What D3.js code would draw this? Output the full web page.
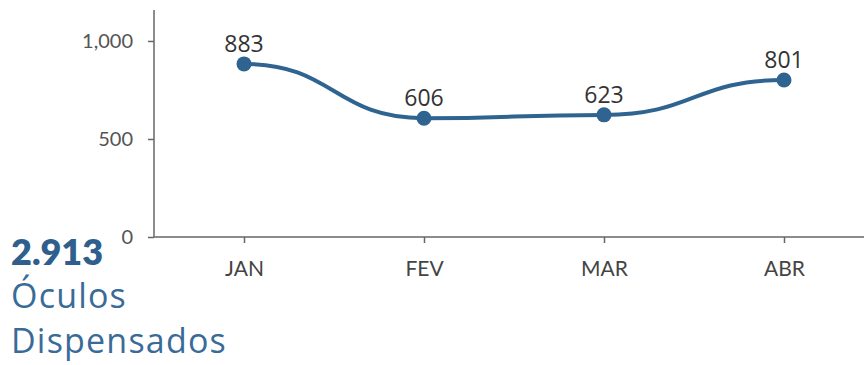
<!DOCTYPE html>
<html>
<head>
<meta charset="utf-8">
<script src="https://cdn.jsdelivr.net/npm/d3@7"></script>
<style>
  body { margin: 0; background: #fff; }
  svg { display: block; }
</style>
</head>
<body>
<div id="canvas"></div>
<script>
// data
var months = ['JAN', 'FEV', 'MAR', 'ABR'];
var values = [883, 606, 623, 801];
var yTicks = [0, 500, 1000];
var totalLabel = '2.913';
var titleLines = ['Óculos', 'Dispensados'];

var W = 865, H = 365;
var m = {t: 10, l: 154, b: 128};
var lineColor = '#2f6491';

var svg = d3.select('#canvas')
    .append('svg')
    .attr('width', W)
    .attr('height', H);

var plot = svg.append('g')
    .attr('transform', 'translate(' + m.l + ',' + m.t + ')');

var h = H - m.t - m.b;

// scales
var scaleX = d3.scalePoint()
    .domain(months)
    .range([90, 630]);
var scaleY = d3.scaleLinear()
    .domain([0, 1158])
    .range([h, 0]);

// axes
var axisY = d3.axisLeft(scaleY)
    .tickValues(yTicks)
    .tickFormat(d3.format(','))
    .tickSize(6)
    .tickPadding(15);
var axisX = d3.axisBottom(scaleX)
    .tickSize(6)
    .tickPadding(18);

var gy = plot.append('g').call(axisY);
gy.select('.domain').attr('d', 'M0,0V' + h);

var gx = plot.append('g')
    .attr('transform', 'translate(0,' + h + ')')
    .call(axisX);
gx.select('.domain').attr('d', 'M0,0H' + (W - m.l - 1));

plot.selectAll('.domain, .tick line')
    .attr('stroke', '#666')
    .attr('stroke-width', 1.5);
gy.selectAll('.tick text')
    .attr('font-family', 'Lato, sans-serif')
    .attr('font-size', 20)
    .attr('fill', '#555');
gx.selectAll('.tick text')
    .attr('font-family', 'Lato, sans-serif')
    .attr('font-size', 21)
    .attr('fill', '#444');

// line
var line = d3.line()
    .x(function(d, i) { return scaleX(months[i]); })
    .y(function(d) { return scaleY(d); })
    .curve(d3.curveBumpX);

plot.append('path')
    .datum(values)
    .attr('d', line)
    .attr('fill', 'none')
    .attr('stroke', lineColor)
    .attr('stroke-width', 4);

plot.selectAll('circle.pt')
    .data(values)
    .enter().append('circle')
    .attr('class', 'pt')
    .attr('cx', function(d, i) { return scaleX(months[i]); })
    .attr('cy', function(d) { return scaleY(d); })
    .attr('r', 7.5)
    .attr('fill', lineColor);

plot.selectAll('text.val')
    .data(values)
    .enter().append('text')
    .attr('class', 'val')
    .attr('x', function(d, i) { return scaleX(months[i]); })
    .attr('y', function(d) { return scaleY(d) - 12; })
    .attr('text-anchor', 'middle')
    .attr('font-family', '"Open Sans", sans-serif')
    .attr('font-size', 23)
    .attr('fill', '#333')
    .text(function(d) { return d; });

// side title
svg.append('text')
    .attr('x', 11)
    .attr('y', 265)
    .attr('font-family', 'Lato, sans-serif')
    .attr('font-weight', 800)
    .attr('font-size', 36)
    .attr('fill', '#2f5f8c')
    .text(totalLabel);

svg.selectAll('text.title')
    .data(titleLines)
    .enter().append('text')
    .attr('class', 'title')
    .attr('x', 11)
    .attr('y', function(d, i) { return 308 + i * 45; })
    .attr('font-family', '"Open Sans", sans-serif')
    .attr('font-weight', 400)
    .attr('font-size', 34)
    .attr('letter-spacing', 1.2)
    .attr('fill', '#3a6b98')
    .text(function(d) { return d; });
</script>
</body>
</html>
